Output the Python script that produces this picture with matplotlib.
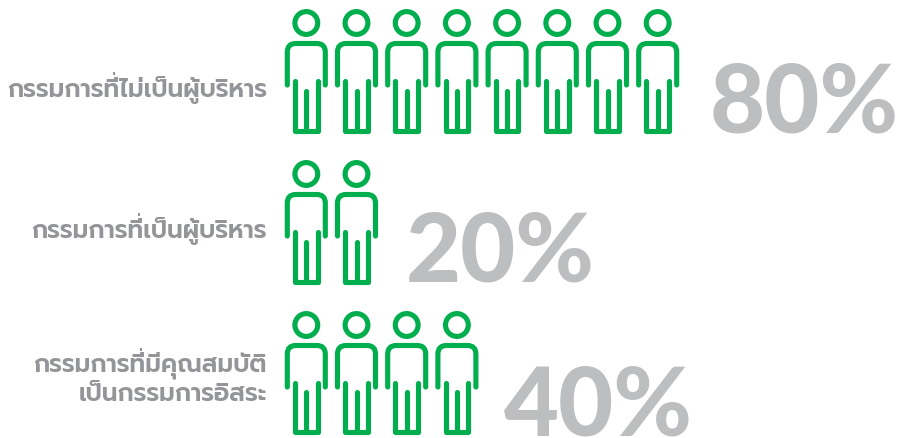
import matplotlib
matplotlib.use('Agg')
import matplotlib.pyplot as plt
from matplotlib.font_manager import FontProperties
from matplotlib.patches import Circle, PathPatch
from matplotlib.path import Path

# board composition, one figure per 10%
labels = ['กรรมการที่ไม่เป็นผู้บริหาร', 'กรรมการที่เป็นผู้บริหาร', 'กรรมการที่มีคุณสมบัติ\nเป็นกรรมการอิสระ']
percents = [80, 20, 40]

GREEN = '#00AE4D'
LABEL_GREY = '#939598'
PCT_GREY = '#BCBEC0'
THAI_FONT = ['Prompt', 'Kanit', 'DejaVu Sans']
PCT_FONT = ['Lato', 'DejaVu Sans']
LABEL_SIZE = 17.8
LINE_GAP = 29

PITCH = 50.2
ROW_STEP = 151
LW = 3.7


def draw_person(ax, cx, cy):
    # cx, cy = head centre, everything else is relative to that
    ax.add_patch(Circle((cx, cy), 11.4, fill=False, ec=GREEN, lw=LW))
    body = Path([(cx - 19, cy + 62), (cx - 19, cy + 29), (cx - 19, cy + 20.5), (cx - 10.5, cy + 20.5),
                 (cx + 10.5, cy + 20.5), (cx + 19, cy + 20.5), (cx + 19, cy + 29), (cx + 19, cy + 62)],
                [Path.MOVETO, Path.LINETO, Path.CURVE3, Path.CURVE3,
                 Path.LINETO, Path.CURVE3, Path.CURVE3, Path.LINETO])
    legs = Path([(cx - 11.3, cy + 57.5), (cx - 11.3, cy + 107.5), (cx + 11.3, cy + 107.5), (cx + 11.3, cy + 57.5)])
    mid = Path([(cx, cy + 67.5), (cx, cy + 107.5)])
    for p in (body, legs, mid):
        ax.add_patch(PathPatch(p, fill=False, ec=GREEN, lw=LW, capstyle='round', joinstyle='round'))


fig = plt.figure(figsize=(8.97, 4.39), dpi=100)
ax = fig.add_axes([0, 0, 1, 1])
ax.set_xlim(0, 897)
ax.set_ylim(439, 0)
ax.axis('off')

label_y = [90, 231, 380]
pct_x = [710, 406, 504]
pct_base = [133, 282, 435.5]
renderer = fig.canvas.get_renderer()
prop = FontProperties(family=THAI_FONT, weight='semibold', size=LABEL_SIZE)

for i, (lab, pct) in enumerate(zip(labels, percents)):
    n = pct // 10
    y0 = 24 + i * ROW_STEP
    for j in range(n):
        draw_person(ax, 306.3 + j * PITCH, y0)

    lines = lab.split('\n')
    top = label_y[i] - LINE_GAP * (len(lines) - 1) / 2
    for k, line in enumerate(lines):
        y = top + k * LINE_GAP
        ax.text(267, y, line, ha='right', va='center', color=LABEL_GREY, fontproperties=prop)
        # no text shaping here, so the tone mark over sara ii has to be lifted by hand
        if 'ที่' in line:
            tail = line.split('ที่', 1)[1]
            w = renderer.get_text_width_height_descent(tail, prop, False)[0]
            xm = 267 - w - 5
            ax.plot([xm, xm], [y - 17, y - 14], color=LABEL_GREY, lw=1.5, solid_capstyle='butt')

    ax.text(pct_x[i], pct_base[i], f'{pct}%', ha='left', va='baseline', color=PCT_GREY,
            family=PCT_FONT, fontweight='black', fontsize=68.5)

fig.savefig('out.png', dpi=100)
